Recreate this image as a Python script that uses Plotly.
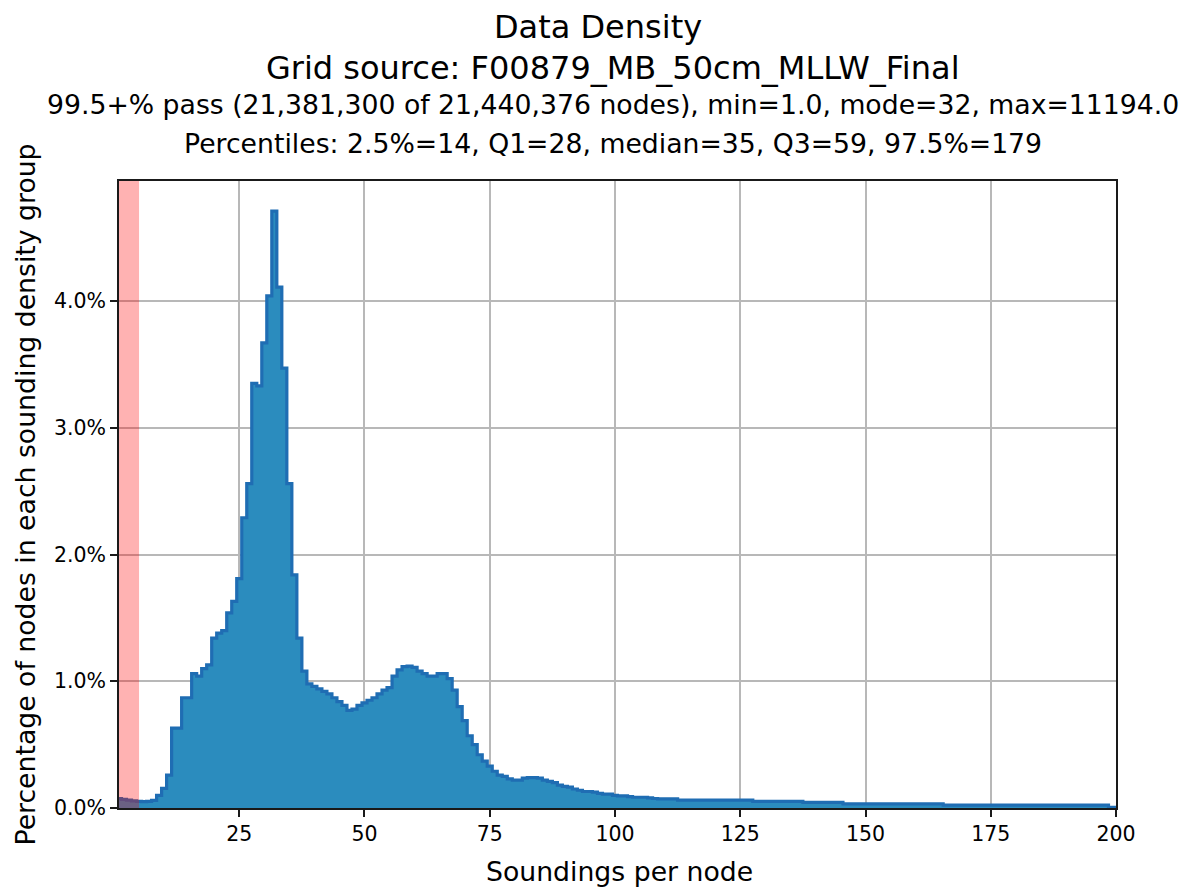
import plotly.graph_objects as go

# ---- data ----
soundings = list(range(1, 201))  # soundings per node (bin centres)
pct = [
    0.075, 0.068, 0.062, 0.057, 0.052, 0.050, 0.053, 0.060, 0.100, 0.155,   # 1-10
    0.26, 0.63, 0.63, 0.87, 0.87, 1.06, 1.04, 1.10, 1.13, 1.34,             # 11-20
    1.38, 1.40, 1.54, 1.63, 1.81, 2.29, 2.56, 3.35, 3.33, 3.67,             # 21-30
    4.04, 4.71, 4.11, 3.47, 2.56, 1.84, 1.34, 1.08, 0.98, 0.96,             # 31-40
    0.94, 0.92, 0.90, 0.87, 0.84, 0.81, 0.77, 0.78, 0.81, 0.83,             # 41-50
    0.85, 0.87, 0.90, 0.93, 0.95, 1.04, 1.09, 1.115, 1.12, 1.11,            # 51-60
    1.08, 1.06, 1.04, 1.04, 1.06, 1.06, 1.02, 0.93, 0.80, 0.69,             # 61-70
    0.57, 0.50, 0.42, 0.37, 0.33, 0.29, 0.26, 0.25, 0.23, 0.22,             # 71-80
    0.22, 0.235, 0.24, 0.24, 0.235, 0.22, 0.21, 0.20, 0.18, 0.17,           # 81-90
    0.165, 0.15, 0.14, 0.13, 0.13, 0.125, 0.115, 0.11, 0.11, 0.10,          # 91-100
    0.095, 0.095, 0.09, 0.085, 0.085, 0.085, 0.08, 0.075, 0.072, 0.072,     # 101-110
    0.072, 0.072, 0.062, 0.062, 0.062, 0.062, 0.062, 0.062, 0.062, 0.062,  # 111-120
    0.062, 0.062, 0.062, 0.062, 0.062, 0.062, 0.062, 0.053, 0.053, 0.053,  # 121-130
    0.053, 0.053, 0.053, 0.053, 0.053, 0.053, 0.053, 0.045, 0.045, 0.045,  # 131-140
    0.045, 0.045, 0.045, 0.045, 0.045, 0.033, 0.033, 0.033, 0.033, 0.033,  # 141-150
    0.033, 0.033, 0.033, 0.033, 0.033, 0.033, 0.033, 0.033, 0.033, 0.033,  # 151-160
    0.033, 0.033, 0.033, 0.033, 0.033, 0.022, 0.022, 0.022, 0.022, 0.022,  # 161-170
    0.022, 0.022, 0.022, 0.022, 0.022, 0.022, 0.022, 0.022, 0.022, 0.022,  # 171-180
    0.022, 0.022, 0.022, 0.022, 0.022, 0.022, 0.022, 0.022, 0.022, 0.022,  # 181-190
    0.022, 0.022, 0.022, 0.022, 0.022, 0.022, 0.022, 0.022, 0.006, 0.006,  # 191-200
]

x_ticks = [25, 50, 75, 100, 125, 150, 175, 200]
x_ticktext = ["25", "50", "75", "100", "125", "150", "175", "200"]
y_ticks = [0, 1, 2, 3, 4]
y_ticktext = ["0.0%", "1.0%", "2.0%", "3.0%", "4.0%"]

min_soundings = 1
fail_threshold = 5
x_max = 200
y_max = 4.947

title = "Data Density"
subtitle_lines = [
    "Grid source: F00879_MB_50cm_MLLW_Final",
    "99.5+% pass (21,381,300 of 21,440,376 nodes), min=1.0, mode=32, max=11194.0",
    "Percentiles: 2.5%=14, Q1=28, median=35, Q3=59, 97.5%=179",
]
x_label = "Soundings per node"
y_label = "Percentage of nodes in each sounding density group"

FONT = "DejaVu Sans"
# the page body has an 8px default margin, so the figure is 8px smaller
PAGE_OFF = 8
W, H = 1188 - PAGE_OFF, 888 - PAGE_OFF

fig = go.Figure()
fig.add_trace(go.Scatter(
    x=soundings, y=pct,
    mode="lines",
    line=dict(shape="hvh", color="#1f6db3", width=3.2),
    fill="tozeroy",
    fillcolor="#2b8cbe",
    hoverinfo="skip",
    showlegend=False,
))

fig.add_vrect(x0=min_soundings, x1=fail_threshold,
              fillcolor="rgba(255,0,0,0.3)", line_width=0, layer="above")

axis_common = dict(
    showline=True, linecolor="#1a1a1a", linewidth=1.6, mirror=True,
    ticks="outside", ticklen=7, tickwidth=1.6, tickcolor="#1a1a1a",
    showgrid=True, gridcolor="#b8b8b8", gridwidth=1.6,
    zeroline=False, layer="above traces", automargin=False,
    tickfont=dict(family=FONT, size=20.5, color="black"),
)

fig.update_layout(
    width=W, height=H,
    margin=dict(l=119 - PAGE_OFF, r=72, t=181 - PAGE_OFF, b=80),
    paper_bgcolor="white", plot_bgcolor="white",
    font=dict(family=FONT, color="black"),
    title=dict(text=title, x=(598 - PAGE_OFF) / W, xref="container", xanchor="center",
               y=1 - (27 - PAGE_OFF) / H, yref="container", yanchor="middle",
               font=dict(family=FONT, size=32, color="black")),
    xaxis=dict(range=[min_soundings, x_max], tickmode="array",
               tickvals=x_ticks, ticktext=x_ticktext, **axis_common),
    yaxis=dict(range=[0, y_max], tickmode="array",
               tickvals=y_ticks, ticktext=y_ticktext, **axis_common),
)

sub_y_px = [68, 104, 143]
sub_sizes = [32, 26.7, 26.7]
for text, ypx, sz in zip(subtitle_lines, sub_y_px, sub_sizes):
    fig.add_annotation(text=text, xref="paper", yref="paper",
                       x=(612.5 - 119) / 997, y=1 + (181 - ypx) / 627,
                       xanchor="center", yanchor="middle", showarrow=False,
                       font=dict(family=FONT, size=sz, color="black"))

fig.add_annotation(text=x_label, xref="paper", yref="paper",
                   x=(619 - 119) / 997, y=(808 - 871) / 627, xanchor="center", yanchor="middle",
                   showarrow=False, font=dict(family=FONT, size=26.7, color="black"))
fig.add_annotation(text=y_label, xref="paper", yref="paper",
                   x=(25 - 119) / 997, y=0.5, xanchor="center", yanchor="middle",
                   textangle=-90, showarrow=False,
                   font=dict(family=FONT, size=26.7, color="black"))

fig.write_html("out.html")
